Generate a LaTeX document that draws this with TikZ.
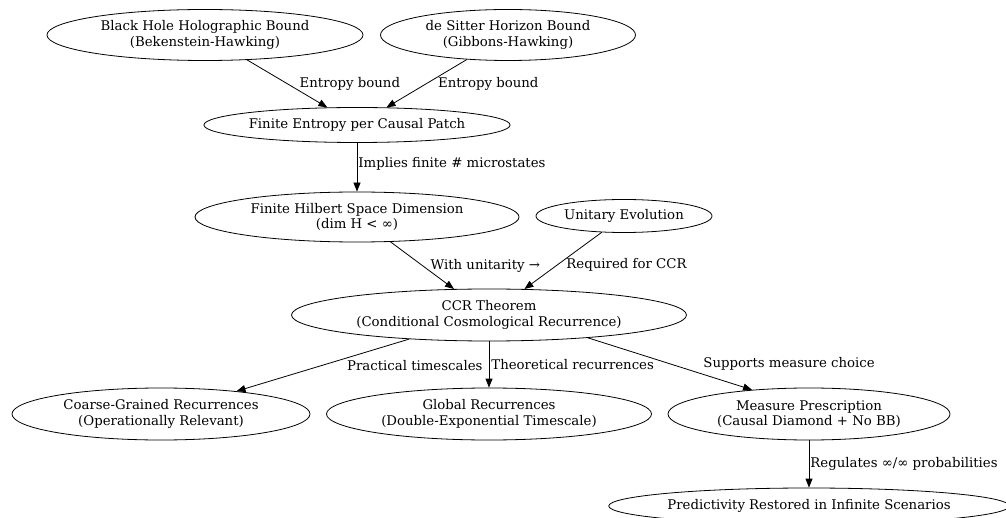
\documentclass[tikz,border=0pt]{standalone}
\usepackage{fontspec}
\setmainfont{DejaVu Serif}
\usetikzlibrary{shapes.geometric}
\usetikzlibrary{arrows.meta}

\begin{document}
\begin{tikzpicture}[
	x=1pt, y=-1pt,
	font=\fontsize{13.3}{15.5}\selectfont,
	box/.style={ellipse, draw, line width=.8pt, inner sep=0pt, align=center},
	flow/.style={-{Triangle[length=9pt,width=7pt]}, line width=.8pt},
	lbl/.style={anchor=west, inner sep=0pt},
	]
	\useasboundingbox (0,0) rectangle (1006,518);
	\fill[white] (0,0) rectangle (1006,518);
	% bounds
	\node[box, minimum width=316pt, minimum height=51pt] (bh) at (205,35) {Black Hole Holographic Bound\\(Bekenstein-Hawking)};
	\node[box, minimum width=255pt, minimum height=51pt] (ds) at (508,35) {de Sitter Horizon Bound\\(Gibbons-Hawking)};
	\node[box, minimum width=303pt, minimum height=35pt] (fe) at (357,125) {Finite Entropy per Causal Patch};
	\node[box, minimum width=324pt, minimum height=50pt] (fh) at (357,217) {Finite Hilbert Space Dimension\\(dim H < ∞)};
	\node[box, minimum width=176pt, minimum height=33pt] (ue) at (624,216) {Unitary Evolution};
	\node[box, minimum width=395pt, minimum height=52pt] (ccr) at (489,315) {CCR Theorem\\(Conditional Cosmological Recurrence)};
	% outcomes
	\node[box, minimum width=298pt, minimum height=52pt] (cg) at (161,414) {Coarse-Grained Recurrences\\(Operationally Relevant)};
	\node[box, minimum width=325pt, minimum height=52pt] (gr) at (489,414) {Global Recurrences\\(Double-Exponential Timescale)};
	\node[box, minimum width=282pt, minimum height=52pt] (mp) at (809,414) {Measure Prescription\\(Causal Diamond + No BB)};
	\node[box, minimum width=392pt, minimum height=36pt] (pr) at (809,506) {Predictivity Restored in Infinite Scenarios};
	% edges
	\draw[flow] (bh) -- node[lbl, xshift=12pt] {Entropy bound} (fe);
	\draw[flow] (ds) -- node[lbl, xshift=11pt] {Entropy bound} (fe);
	\draw[flow] (fe) -- node[lbl, xshift=1pt, yshift=3pt] {Implies finite \# microstates} (fh);
	\draw[flow] (fh) -- node[lbl, xshift=8pt] {With unitarity →} (ccr);
	\draw[flow] (ue) -- node[lbl, xshift=3pt, yshift=-4pt] {Required for CCR} (ccr);
	\draw[flow] (ccr) -- node[lbl, xshift=24pt] {Practical timescales} (cg);
	\draw[flow] (ccr) -- node[lbl, xshift=2pt] {Theoretical recurrences} (gr);
	\draw[flow] (ccr.-13.7) -- node[lbl, xshift=33pt] {Supports measure choice} (mp.157.9);
	\draw[flow] (mp) -- node[lbl, xshift=1pt] {Regulates ∞/∞ probabilities} (pr);
\end{tikzpicture}
\end{document}
